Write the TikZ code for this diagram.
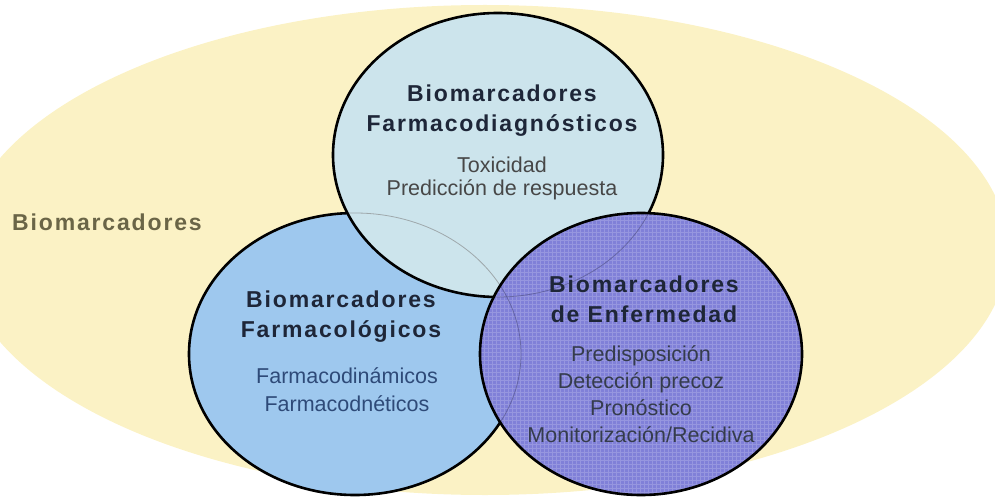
\documentclass[tikz,border=0pt]{standalone}
\usepackage{fontspec}
\setmainfont{Liberation Sans}
\newfontfamily\spacedfont[LetterSpace=8]{Liberation Sans}

\definecolor{bgyellow}{HTML}{FBF2C5}
\definecolor{diagblue}{HTML}{CCE4EC}
\definecolor{farmblue}{HTML}{9EC8EE}
\definecolor{enfpurple}{HTML}{8080D8}
\definecolor{titleink}{HTML}{1E2638}
\definecolor{outerink}{HTML}{6A6547}
\definecolor{farmink}{HTML}{2E4A78}

\tikzset{bubble/.style={draw=black, line width=2.6pt},
    hidden/.style={line width=0.8pt, opacity=0.6},
    titletext/.style={font=\spacedfont\bfseries\fontsize{23}{30}\selectfont,
        align=center, anchor=north, inner sep=0pt, text=titleink},
    itemtext/.style={font=\fontsize{21.5}{#1}\selectfont,
        align=center, anchor=north, inner sep=0pt},
    itemtext/.default=27,
    }

\begin{document}
\begin{tikzpicture}[x=1pt,y=-1pt]
	\useasboundingbox (0,0) rectangle (995,497);
	\clip (0,0) rectangle (995,497);
	% outer set
	\fill[bgyellow] (485,250) ellipse [x radius=523pt, y radius=245pt];
	\node[titletext, text=outerink, anchor=base west] (outer) at (12,230) {Biomarcadores};
	% the three sets, each one over the one before
	\draw[bubble, fill=farmblue] (355,354) ellipse [x radius=166pt, y radius=141pt];
	\fill[diagblue] (498,155) ellipse [x radius=165pt, y radius=142pt];
	\begin{scope}
		\clip (498,155) ellipse [x radius=165pt, y radius=142pt];
		\draw[hidden, gray] (355,354) ellipse [x radius=166pt, y radius=141pt];
	\end{scope}
	\draw[bubble] (498,155) ellipse [x radius=165pt, y radius=142pt];
	\fill[enfpurple] (641,354) ellipse [x radius=161pt, y radius=141pt];
	\begin{scope}
		\clip (641,354) ellipse [x radius=160pt, y radius=140pt];
		\draw[white, opacity=0.18, line width=0.5pt, step=4pt] (470,200) grid (810,500);
		\draw[hidden, enfpurple!60!black] (355,354) ellipse [x radius=166pt, y radius=141pt];
		\draw[hidden, enfpurple!60!black] (498,155) ellipse [x radius=165pt, y radius=142pt];
	\end{scope}
	\draw[bubble] (641,354) ellipse [x radius=161pt, y radius=141pt];
	% labels
	\node[titletext] (diagtitle) at (502,85) {Biomarcadores\\Farmacodiagnósticos};
	\node[itemtext=23, text=black!72] (diagitems) at (502,157) {Toxicidad\\Predicción de respuesta};
	\node[titletext] (farmtitle) at (341,291) {Biomarcadores\\Farmacológicos};
	\node[itemtext=28, text=farmink] (farmitems) at (347,367) {Farmacodinámicos\\Farmacodnéticos};
	\node[titletext] (enftitle) at (644,276) {Biomarcadores\\de Enfermedad};
	\node[itemtext=27, text=titleink!90] (enfitems) at (641,345) {Predisposición\\Detección precoz\\Pronóstico\\Monitorización/Recidiva};
\end{tikzpicture}
\end{document}
